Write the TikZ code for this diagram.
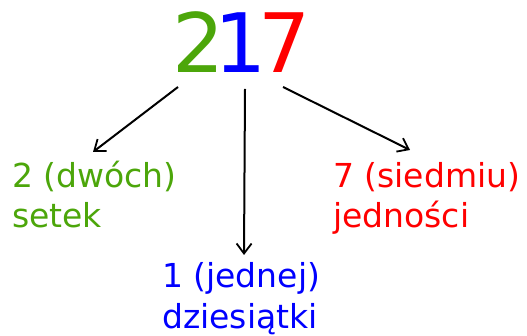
\documentclass[tikz,border=0pt]{standalone}
\usepackage{fontspec}
\setmainfont{DejaVu Sans}
\usetikzlibrary{arrows.meta}
\definecolor{mygreen}{RGB}{76,166,10}
\definecolor{myblue}{RGB}{0,0,255}
\definecolor{myred}{RGB}{255,0,0}
\tikzset{
  arr/.style={line width=2pt, -{Straight Barb[length=10pt,width=15pt,line width=1.8pt]}},
  lbl/.style={anchor=base west, inner sep=0pt, font=\fontsize{33}{40}\selectfont},
  big/.style={anchor=base, inner sep=0pt, font=\fontsize{82}{80}\selectfont}
}
\begin{document}
\begin{tikzpicture}[x=1pt,y=-1pt]
\useasboundingbox (0,0) rectangle (527,336);
\node[big, text=mygreen] (d2) at (199,73) {2};
\node[big, text=myblue] (d1) at (241,73) {1};
\node[big, text=myred] (d7) at (285,73) {7};
\coordinate (s2) at (178,87);
\coordinate (s1) at (245,89);
\coordinate (s7) at (283,87);
\node[lbl, text=mygreen] (t2a) at (12,188) {2 (dwóch)};
\node[lbl, text=mygreen] (t2b) at (12,228) {setek};
\node[lbl, text=myred] (t7a) at (333,188) {7 (siedmiu)};
\node[lbl, text=myred] (t7b) at (333,228) {jedności};
\node[lbl, text=myblue] (t1a) at (162,288) {1 (jednej)};
\node[lbl, text=myblue] (t1b) at (162,328) {dziesiątki};
\coordinate (e2) at (93,152);
\coordinate (e1) at (244,255);
\coordinate (e7) at (410,150);
\draw[arr] (s2) -- (e2);
\draw[arr] (s1) -- (e1);
\draw[arr] (s7) -- (e7);
\end{tikzpicture}
\end{document}
